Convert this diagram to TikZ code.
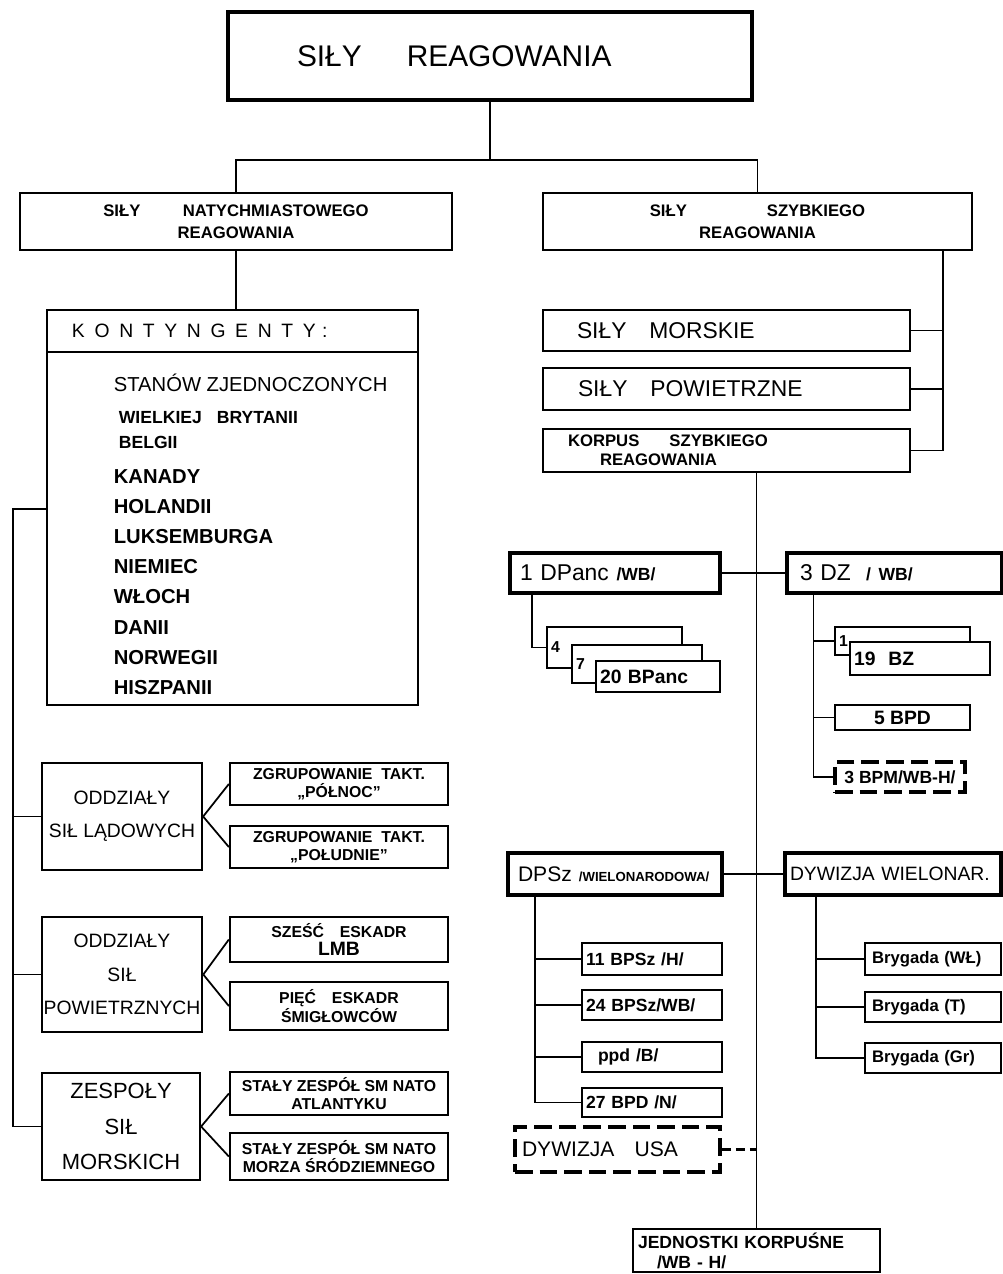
\documentclass[tikz,border=0pt]{standalone}
\usepackage{fontspec}
\setmainfont{Liberation Sans}
\usetikzlibrary{positioning}

\begin{document}
\begin{tikzpicture}[x=1.000cm,y=1.000cm,line width=1pt,
 box/.style={draw,line width=1.3pt,fill=white,align=center,inner sep=1pt},
 gruby/.style={box,line width=2.2pt},
 przer/.style={box,line width=2pt,dash pattern=on 10pt off 4pt},
 lewo/.style={align=left},
 karta/.style={box,align=left,inner xsep=0.080cm,font=\fontsize{10}{12}\selectfont\bfseries},
 duzy/.style={font=\fontsize{17}{20}\selectfont},
 sredni/.style={font=\fontsize{13}{16}\selectfont},
 grupa/.style={font=\fontsize{11}{19}\selectfont},
 maly/.style={font=\fontsize{9}{10.5}\selectfont\bfseries},
 kraj/.style={anchor=west,inner sep=0pt,font=\fontsize{11.5}{13}\selectfont\bfseries}]
\useasboundingbox (0,0) rectangle (20.060,-25.480);
% gora
\node[gruby,duzy,lewo,inner xsep=1.380cm,text width=7.720cm,minimum height=1.760cm] (tytul) at (9.800,-1.120) {SIŁY\hspace{0.9cm}REAGOWANIA};
\node[box,maly,font=\fontsize{9.5}{12.5}\selectfont\bfseries,minimum width=8.640cm,minimum height=1.140cm] (snr) at (4.720,-4.430) {SIŁY\hspace{0.85cm}NATYCHMIASTOWEGO\\REAGOWANIA};
\node[box,font=\fontsize{9.5}{12.5}\selectfont\bfseries,minimum width=8.580cm,minimum height=1.140cm] (ssr) at (15.150,-4.430) {SIŁY\hspace{1.6cm}SZYBKIEGO\\REAGOWANIA};
% kontyngenty
\node[box,lewo,inner xsep=0.500cm,text width=6.420cm,minimum height=0.840cm,font=\fontsize{11}{13}\selectfont] (kont) at (4.650,-6.620) {\addfontfeature{LetterSpace=50}KONTYNGENTY :};
\node[box,minimum width=7.420cm,minimum height=7.060cm,below=-1.3pt of kont] (kraje) {};
\node[kraj,font=\fontsize{11.5}{13}\selectfont] (k1) at (2.260,-7.660) {STANÓW ZJEDNOCZONYCH};
\node[kraj,font=\fontsize{10}{12}\selectfont\bfseries] (k2) at (2.360,-8.360) {WIELKIEJ\hspace{0.3cm}BRYTANII};
\node[kraj,font=\fontsize{10}{12}\selectfont\bfseries] (k3) at (2.360,-8.840) {BELGII};
\foreach \n/\y/\t in {4/-9.540/KANADY,5/-10.140/HOLANDII,6/-10.740/LUKSEMBURGA,7/-11.340/NIEMIEC,
  8/-11.940/WŁOCH,9/-12.560/DANII,10/-13.160/NORWEGII,11/-13.760/HISZPANII}
  \node[kraj] (k\n) at (2.260,\y) {\t};
% oddzialy i zespoly
\node[box,grupa,minimum width=3.200cm,minimum height=2.140cm] (osl) at (2.440,-16.330) {ODDZIAŁY\\SIŁ LĄDOWYCH};
\node[box,maly,minimum width=4.360cm,minimum height=0.840cm] (zg1) at (6.780,-15.680) {ZGRUPOWANIE\ \ TAKT.\\„PÓŁNOC”};
\node[box,maly,minimum width=4.360cm,minimum height=0.840cm] (zg2) at (6.780,-16.940) {ZGRUPOWANIE\ \ TAKT.\\„POŁUDNIE”};
\node[box,grupa,minimum width=3.200cm,minimum height=2.300cm] (osp) at (2.440,-19.490) {ODDZIAŁY\\SIŁ\\POWIETRZNYCH};
\node[box,maly,minimum width=4.360cm,minimum height=0.900cm] (se1) at (6.780,-18.790) {SZEŚĆ\quad ESKADR\\{\fontsize{11}{12}\selectfont LMB}};
\node[box,maly,minimum width=4.360cm,minimum height=0.960cm] (se2) at (6.780,-20.120) {PIĘĆ\quad ESKADR\\ŚMIGŁOWCÓW};
\node[box,font=\fontsize{12.5}{20}\selectfont,minimum width=3.160cm,minimum height=2.140cm] (zsm) at (2.420,-22.530) {ZESPOŁY\\SIŁ\\MORSKICH};
\node[box,maly,minimum width=4.360cm,minimum height=0.860cm] (sz1) at (6.780,-21.870) {STAŁY ZESPÓŁ SM NATO\\ATLANTYKU};
\node[box,maly,minimum width=4.360cm,minimum height=0.940cm] (sz2) at (6.780,-23.130) {STAŁY ZESPÓŁ SM NATO\\MORZA ŚRÓDZIEMNEGO};
% sily szybkiego reagowania
\node[box,sredni,lewo,inner xsep=0.680cm,text width=5.980cm,minimum height=0.820cm] (morskie) at (14.530,-6.610) {SIŁY\quad MORSKIE};
\node[box,sredni,lewo,inner xsep=0.700cm,text width=5.940cm,minimum height=0.840cm] (powietrzne) at (14.530,-7.780) {SIŁY\quad POWIETRZNE};
\node[box,font=\fontsize{9.5}{11}\selectfont\bfseries,lewo,inner xsep=0.500cm,text width=6.340cm,minimum height=0.860cm] (korpus) at (14.530,-9.010) {KORPUS\hspace{0.6cm}SZYBKIEGO\\\hspace*{0.640cm}REAGOWANIA};
\node[gruby,sredni,lewo,inner xsep=0.200cm,text width=3.800cm,minimum height=0.800cm] (dpanc) at (12.300,-11.460) {1 DPanc {\bfseries\fontsize{10}{12}\selectfont /WB/}};
\node[gruby,sredni,lewo,inner xsep=0.260cm,text width=3.780cm,minimum height=0.800cm] (dz) at (17.890,-11.460) {3 DZ\ \ {\bfseries\fontsize{10}{12}\selectfont / WB/}};
\node[karta,font=\fontsize{9}{11}\selectfont\bfseries,text width=2.540cm,minimum height=0.820cm] (b4) at (12.290,-12.950) {4};
\node[karta,font=\fontsize{9}{11}\selectfont\bfseries,text width=2.440cm,minimum height=0.760cm] (b7) at (12.740,-13.280) {7};
\node[karta,font=\fontsize{11}{13}\selectfont\bfseries,text width=2.320cm,minimum height=0.620cm] (b20) at (13.160,-13.530) {20 BPanc};
\node[karta,font=\fontsize{9}{11}\selectfont\bfseries,text width=2.540cm,minimum height=0.560cm] (b1) at (18.050,-12.820) {1};
\node[karta,font=\fontsize{11}{13}\selectfont\bfseries,text width=2.640cm,minimum height=0.660cm] (b19) at (18.400,-13.170) {19\ \ BZ};
\node[box,font=\fontsize{11}{13}\selectfont\bfseries,minimum width=2.700cm,minimum height=0.500cm] (bpd5) at (18.050,-14.350) {5 BPD};
\node[przer,font=\fontsize{10}{12}\selectfont\bfseries,minimum width=2.600cm,minimum height=0.600cm] (bpm3) at (18.000,-15.540) {3 BPM/WB-H/};
\node[gruby,lewo,font=\fontsize{12}{14}\selectfont,inner xsep=0.200cm,text width=3.880cm,minimum height=0.840cm] (dpsz) at (12.300,-17.480) {DPSz {\bfseries\fontsize{7.5}{9}\selectfont /WIELONARODOWA/}};
\node[gruby,lewo,font=\fontsize{11}{14}\selectfont,inner xsep=0.100cm,text width=4.120cm,minimum height=0.840cm] (dwn) at (17.860,-17.480) {DYWIZJA WIELONAR.};
\node[karta,text width=2.640cm,minimum height=0.640cm] (bps11) at (13.040,-19.180) {11 BPSz /H/};
\node[karta,text width=2.640cm,minimum height=0.600cm] (bps24) at (13.040,-20.100) {24 BPSz/WB/};
\node[karta,text width=2.640cm,minimum height=0.600cm] (ppd) at (13.040,-21.140) {\hspace*{0.240cm}ppd /B/};
\node[karta,text width=2.640cm,minimum height=0.580cm] (bpd27) at (13.040,-22.050) {27 BPD /N/};
\node[karta,font=\fontsize{9.5}{11}\selectfont\bfseries,inner xsep=0.140cm,text width=2.440cm,minimum height=0.640cm] (br1) at (18.660,-19.180) {Brygada (WŁ)};
\node[karta,font=\fontsize{9.5}{11}\selectfont\bfseries,inner xsep=0.140cm,text width=2.440cm,minimum height=0.600cm] (br2) at (18.660,-20.140) {Brygada (T)};
\node[karta,font=\fontsize{9.5}{11}\selectfont\bfseries,inner xsep=0.140cm,text width=2.440cm,minimum height=0.600cm] (br3) at (18.660,-21.160) {Brygada (Gr)};
\node[przer,font=\fontsize{12}{14}\selectfont,lewo,inner xsep=0.140cm,text width=3.820cm,minimum height=0.900cm] (usa) at (12.350,-22.990) {DYWIZJA\hspace{0.4cm}USA};
\node[box,font=\fontsize{10}{11.5}\selectfont\bfseries,lewo,inner xsep=0.100cm,text width=4.740cm,minimum height=0.860cm] (jedn) at (15.130,-25.010) {JEDNOSTKI KORPUŚNE\\\hspace*{0.380cm}/WB - H/};
% polaczenia
\draw (tytul.south) -- ++(0,-1.160) coordinate (rozw);
\draw (snr.north) |- (rozw) -| (ssr.north);
\draw (snr.south) -- (snr.south |- kont.north);
\coordinate (szyna) at (0.260,-10.180);
\draw (szyna -| kraje.west) -- (szyna) |- (zsm.west);
\draw (szyna |- osl.west) -- (osl.west);
\draw (szyna |- osp.west) -- (osp.west);
\foreach \a/\b in {osl/zg1,osl/zg2,osp/se1,osp/se2,zsm/sz1,zsm/sz2}
  \draw (\a.east) -- (\b.west);
\coordinate (ssrdol) at ([xshift=3.710cm]ssr.south);
\draw (ssrdol) |- (korpus.east);
\draw (morskie.east) -- (morskie.east -| ssrdol);
\draw (powietrzne.east) -- (powietrzne.east -| ssrdol);
\draw (jedn.north) -- (jedn.north |- korpus.south);
\draw (dpanc.east) -- (dz.west);
\draw (dpsz.east) -- (dwn.west);
\draw[line width=1.5pt,dash pattern=on 5pt off 3pt] (usa.east) -- (usa.east -| jedn.north);
\coordinate (dpancdol) at ([xshift=-1.660cm]dpanc.south);
\draw (dpancdol) |- (b4.west);
\coordinate (dzdol) at ([xshift=-1.620cm]dz.south);
\draw (dzdol) |- (bpm3.west);
\draw (dzdol |- b1.west) -- (b1.west);
\draw (dzdol |- bpd5.west) -- (bpd5.west);
\coordinate (dpszdol) at ([xshift=-1.600cm]dpsz.south);
\draw (dpszdol) |- (bpd27.west);
\foreach \n in {bps11,bps24,ppd}
  \draw (dpszdol |- \n.west) -- (\n.west);
\coordinate (dwndol) at ([xshift=-1.540cm]dwn.south);
\draw (dwndol) |- (br3.west);
\foreach \n in {br1,br2}
  \draw (dwndol |- \n.west) -- (\n.west);
\end{tikzpicture}
\end{document}
